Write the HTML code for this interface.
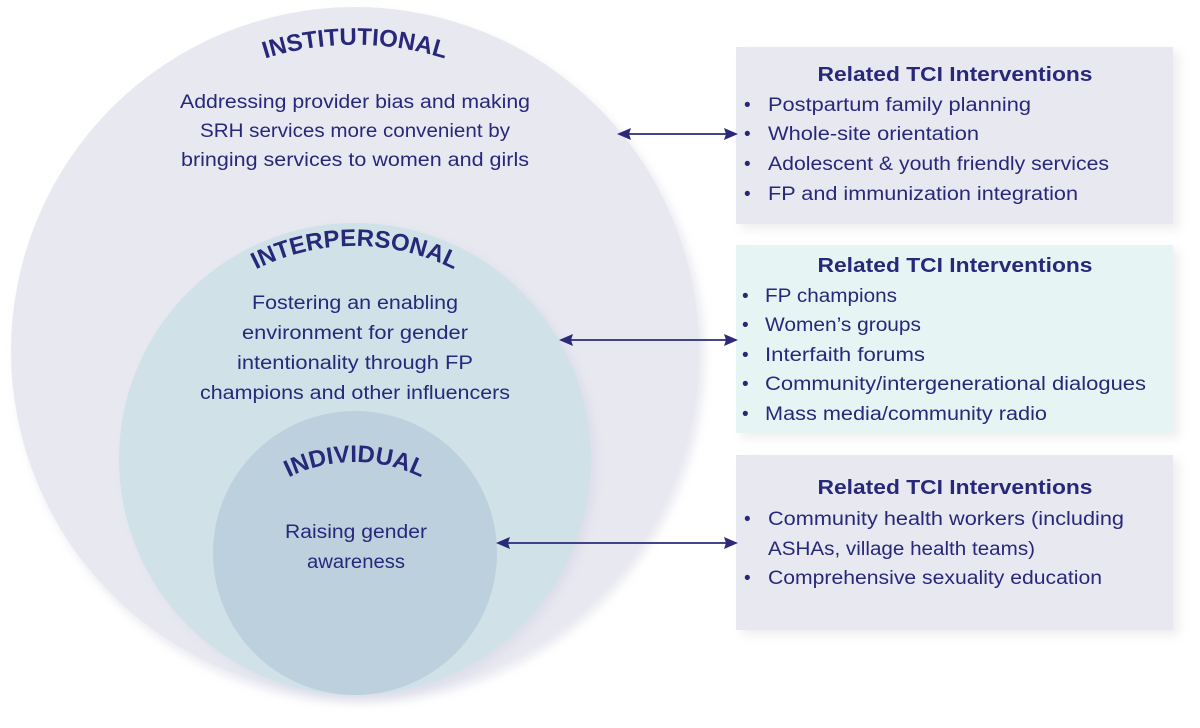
<!DOCTYPE html>
<html><head><meta charset="utf-8"><style>
html,body{margin:0;padding:0;background:#fff;}
svg{display:block;}
text{font-family:"Liberation Sans",sans-serif;fill:#28287a;}
.b{font-size:19px;}
.h{font-size:20px;font-weight:bold;}
.t{font-size:24px;font-weight:bold;}
</style></head><body>
<svg width="1200" height="728" viewBox="0 0 1200 728" xmlns="http://www.w3.org/2000/svg">
<defs>
<filter id="sh" x="-10%" y="-10%" width="120%" height="120%"><feGaussianBlur stdDeviation="5"/></filter>
<path id="a1" d="M 195 91 A 300 300 0 0 1 515 91"/>
<path id="a2" d="M 205 305 A 220 220 0 0 1 505 305"/>
<path id="a3" d="M 245 510 A 150 150 0 0 1 465 510"/>
</defs>
<circle cx="360" cy="358" r="344" fill="#d8d8e6" filter="url(#sh)" opacity="0.6"/>
<circle cx="355" cy="351" r="344" fill="#e8e8f1"/>
<circle cx="360" cy="463" r="236" fill="#d6d6e6" filter="url(#sh)" opacity="0.6"/>
<circle cx="355" cy="459" r="236" fill="#d0e2e8"/>
<circle cx="355" cy="553" r="142" fill="#bdd0dd"/>

<text class="t"><textPath href="#a1" startOffset="50%" text-anchor="middle">INSTITUTIONAL</textPath></text>
<text class="t"><textPath href="#a2" startOffset="50%" text-anchor="middle">INTERPERSONAL</textPath></text>
<text class="t"><textPath href="#a3" startOffset="50%" text-anchor="middle">INDIVIDUAL</textPath></text>

<g class="b" text-anchor="middle">
<text x="355" y="108" textLength="350" lengthAdjust="spacingAndGlyphs">Addressing provider bias and making</text>
<text x="355" y="137" textLength="310" lengthAdjust="spacingAndGlyphs">SRH services more convenient by</text>
<text x="355" y="166" textLength="348" lengthAdjust="spacingAndGlyphs">bringing services to women and girls</text>
<text x="355" y="309" textLength="206" lengthAdjust="spacingAndGlyphs">Fostering an enabling</text>
<text x="355" y="339" textLength="226" lengthAdjust="spacingAndGlyphs">environment for gender</text>
<text x="355" y="369" textLength="236" lengthAdjust="spacingAndGlyphs">intentionality through FP</text>
<text x="355" y="399" textLength="310" lengthAdjust="spacingAndGlyphs">champions and other influencers</text>
<text x="356" y="538" textLength="142" lengthAdjust="spacingAndGlyphs">Raising gender</text>
<text x="356" y="568" textLength="98" lengthAdjust="spacingAndGlyphs">awareness</text>
</g>

<rect x="742" y="52" width="437" height="177" fill="#ddd" filter="url(#sh)" opacity="0.5"/>
<rect x="736" y="47" width="437" height="177" fill="#e8e8f1"/>
<rect x="742" y="250" width="437" height="188" fill="#ddd" filter="url(#sh)" opacity="0.5"/>
<rect x="736" y="245" width="437" height="188" fill="#e6f4f4"/>
<rect x="742" y="460" width="437" height="175" fill="#ddd" filter="url(#sh)" opacity="0.5"/>
<rect x="736" y="455" width="437" height="175" fill="#e8e8f1"/>

<g class="h" text-anchor="middle">
<text x="955" y="81" textLength="275" lengthAdjust="spacingAndGlyphs">Related TCI Interventions</text>
<text x="955" y="272" textLength="275" lengthAdjust="spacingAndGlyphs">Related TCI Interventions</text>
<text x="955" y="494" textLength="275" lengthAdjust="spacingAndGlyphs">Related TCI Interventions</text>
</g>
<g class="b">
<text x="744" y="111">•</text><text x="768" y="111" textLength="263" lengthAdjust="spacingAndGlyphs">Postpartum family planning</text>
<text x="744" y="140">•</text><text x="768" y="140" textLength="211" lengthAdjust="spacingAndGlyphs">Whole-site orientation</text>
<text x="744" y="170">•</text><text x="768" y="170" textLength="341" lengthAdjust="spacingAndGlyphs">Adolescent &amp; youth friendly services</text>
<text x="744" y="200">•</text><text x="768" y="200" textLength="310" lengthAdjust="spacingAndGlyphs">FP and immunization integration</text>

<text x="742" y="302">•</text><text x="765" y="302" textLength="132" lengthAdjust="spacingAndGlyphs">FP champions</text>
<text x="742" y="331">•</text><text x="765" y="331" textLength="156" lengthAdjust="spacingAndGlyphs">Women’s groups</text>
<text x="742" y="361">•</text><text x="765" y="361" textLength="160" lengthAdjust="spacingAndGlyphs">Interfaith forums</text>
<text x="742" y="390">•</text><text x="765" y="390" textLength="381" lengthAdjust="spacingAndGlyphs">Community/intergenerational dialogues</text>
<text x="742" y="420">•</text><text x="765" y="420" textLength="282" lengthAdjust="spacingAndGlyphs">Mass media/community radio</text>

<text x="744" y="525">•</text><text x="768" y="525" textLength="356" lengthAdjust="spacingAndGlyphs">Community health workers (including</text>
<text x="768" y="555" textLength="267" lengthAdjust="spacingAndGlyphs">ASHAs, village health teams)</text>
<text x="744" y="584">•</text><text x="768" y="584" textLength="334" lengthAdjust="spacingAndGlyphs">Comprehensive sexuality education</text>
</g>

<g stroke="#2b2a7a" stroke-width="1.8" fill="#2b2a7a">
<line x1="626" y1="134" x2="728" y2="134"/>
<polygon points="617,134 631,128 629,134 631,140" stroke="none"/>
<polygon points="738,134 724,128 726,134 724,140" stroke="none"/>
<line x1="568" y1="340" x2="728" y2="340"/>
<polygon points="559,340 573,334 571,340 573,346" stroke="none"/>
<polygon points="738,340 724,334 726,340 724,346" stroke="none"/>
<line x1="505" y1="543" x2="728" y2="543"/>
<polygon points="496,543 510,537 508,543 510,549" stroke="none"/>
<polygon points="738,543 724,537 726,543 724,549" stroke="none"/>
</g>
</svg>
</body></html>
